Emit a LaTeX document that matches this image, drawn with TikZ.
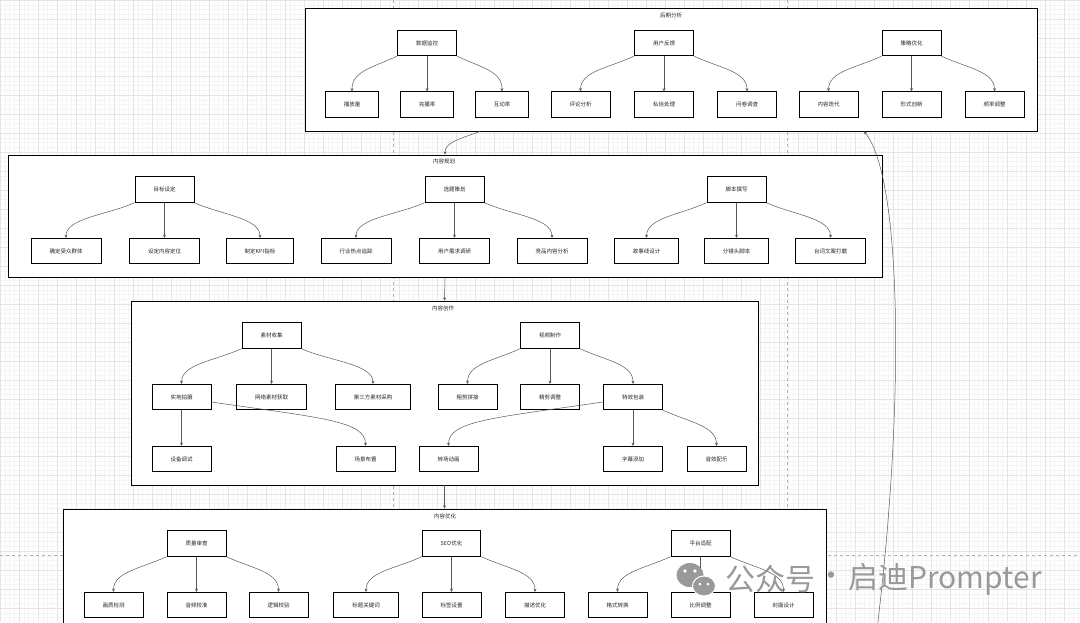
\documentclass[tikz,border=0pt]{standalone}
\usepackage{fontspec}
\setmainfont{Noto Sans CJK SC}
\usetikzlibrary{arrows.meta}

\begin{document}
\begin{tikzpicture}[x=1pt,y=-1pt,
  bx/.style={draw=black,line width=0.8pt,fill=white,minimum height=25.5pt,inner xsep=18.5pt,inner ysep=0pt,font=\fontsize{5.5}{6}\selectfont,text=black!85},
  cl/.style={draw=black,line width=0.9pt,fill=white,inner sep=0pt},
  tt/.style={font=\fontsize{5.5}{6}\selectfont,text=black!85,inner sep=1pt},
  e/.style={draw=black!65,line width=0.5pt,-{Stealth[length=3.2pt,width=3pt]}},
  pg/.style={draw=black!30,line width=0.5pt,dash pattern=on 3pt off 3pt},
  wm/.style={anchor=west,text=black!40,font=\fontsize{30}{30}\selectfont,inner sep=0pt}]
  % paper
  \useasboundingbox (0,0) rectangle (1080,622);
  \clip (0,0) rectangle (1080,622);
  \fill[white] (0,0) rectangle (1080,622);
  \draw[black!4,line width=0.3pt,step=4.75pt] (0,0) grid (1080,622);
  \draw[black!10,line width=0.4pt,step=19pt] (0,0) grid (1080,622);
  \foreach \x in {393,787} \draw[pg] (\x,0)--(\x,622);
  \draw[pg] (0,555)--(1080,555);
  % clusters
  \node[cl,minimum width=732pt,minimum height=123pt] (post) at (671,69.5) {};
  \node[cl,minimum width=874pt,minimum height=122pt] (plan) at (445,216) {};
  \node[cl,minimum width=627pt,minimum height=184pt] (create) at (444.5,393) {};
  \node[cl,minimum width=763pt,minimum height=122pt] (opt) at (444.5,570) {};
  \node[tt] at (671,15) {后期分析};
  \node[tt] at (444,161) {内容规划};
  \node[tt] at (443,308) {内容创作};
  \node[tt] at (445,516) {内容优化};
  % boxes
  \foreach \n/\x/\y/\txt in {mon/427/43/数据监控, fb/664/43/用户反馈, strat/911.5/43/策略优化,
      play/352/104.5/播放量, fin/427/104.5/完播率, inter/502/104.5/互动率,
      cmt/580.5/104.5/评论分析, dm/664/104.5/私信处理, quest/747/104.5/问卷调查,
      iter/828.5/104.5/内容迭代, form/911.5/104.5/形式创新, freq/994.5/104.5/频率调整,
      goal/164.5/189.5/目标设定, topic/454.5/189.5/选题策划, script/736.5/189.5/脚本撰写,
      aud/66/251/确定受众群体, pos/164.5/251/设定内容定位, kpi/260/251/制定KPI指标,
      hot/356/251/行业热点追踪, need/454.5/251/用户需求调研, comp/552/251/竞品内容分析,
      story/646.5/251/故事线设计, shot/736.5/251/分镜头脚本, lines/830.5/251/台词文案打磨,
      coll/271.5/335.5/素材收集, vid/550/335.5/视频制作,
      shoot/181.5/397/实地拍摄, web/271.5/397/网络素材获取, third/373/397/第三方素材采购,
      rough/467.5/397/粗剪拼接, fine/550/397/精剪调整, fx/633/397/特效包装,
      dev/181.5/459/设备调试, scene/365.5/459/场景布置, trans/448.5/459/转场动画,
      sub/633/459/字幕添加, sfx/716.5/459/音效配乐,
      qa/196.5/543.5/质量审查, seo/451.5/543.5/SEO优化, plat/700.5/543.5/平台适配,
      img/113.5/605/画质检测, audio/196.5/605/音频校准, logic/278.5/605/逻辑校验,
      title/366/605/标题关键词, tag/451.5/605/标签设置, desc/535/605/描述优化,
      fmt/617.5/605/格式转换, ratio/700.5/605/比例调整, cover/783.5/605/封面设计}
    \node[bx] (\n) at (\x,\y) {\txt};
  % edges
  \foreach \p/\l/\m/\r in {mon/play/fin/inter, fb/cmt/dm/quest, strat/iter/form/freq,
      goal/aud/pos/kpi, topic/hot/need/comp, script/story/shot/lines,
      coll/shoot/web/third, vid/rough/fine/fx,
      qa/img/audio/logic, seo/title/tag/desc, plat/fmt/ratio/cover} {
    \draw[e] (\p.south west) .. controls +(-26,12) and +(0,-20) .. (\l.north);
    \draw[e] (\p.south) -- (\m.north);
    \draw[e] (\p.south east) .. controls +(26,12) and +(0,-20) .. (\r.north);
  }
  \draw[e] (shoot.south) -- (dev.north);
  \draw[e] ([yshift=-5pt]shoot.east) .. controls +(110,16) and +(0,-25) .. (scene.north);
  \draw[e] ([yshift=-5pt]fx.west) .. controls +(-110,16) and +(0,-25) .. (trans.north);
  \draw[e] (fx.south) -- (sub.north);
  \draw[e] (fx.south east) .. controls +(26,12) and +(0,-20) .. (sfx.north);
  % between clusters
  \draw[e] ([xshift=-191pt]post.south) .. controls +(-22,8) and +(0,-12) .. (plan.north);
  \draw[e] (plan.south) -- (create.north);
  \draw[e] (create.south) -- (opt.north);
  \coordinate (back) at (872,668);
  \draw[e] (back) .. controls (906,420) and (903,178) .. ([xshift=193pt]post.south);
  % watermark
  \fill[black!40] (690,575) ellipse (13.5pt and 12pt);
  \filldraw[black!40,draw=white,line width=1pt] (704,586) ellipse (11.5pt and 10pt);
  \foreach \x/\y/\s in {685/571/1.8, 695/571/1.8, 700/584/1.5, 708/584/1.5} \fill[white] (\x,\y) circle (\s pt);
  \node[wm] (wma) at (725,579) {公众号};
  \node[wm,anchor=center] (wmb) at (831,579) {·};
  \node[wm] (wmc) at (848,579) {启迪Prompter};
\end{tikzpicture}
\end{document}
